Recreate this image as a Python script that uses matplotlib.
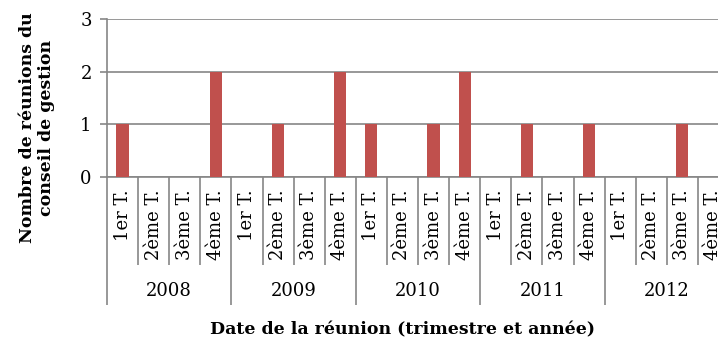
import matplotlib.pyplot as plt

# meetings of the management board per quarter, 2008-2012
years = ['2008', '2009', '2010', '2011', '2012']
quarters = ['1er T.', '2ème T.', '3ème T.', '4ème T.']
meetings = [1, 0, 0, 2,
            0, 1, 0, 2,
            1, 0, 1, 2,
            0, 1, 0, 1,
            0, 0, 1, 0]

plt.rcParams['font.family'] = 'DejaVu Serif'
grey = '#868686'

W, H = 718, 343
fig = plt.figure(figsize=(W / 100, H / 100), dpi=100)
# the category axis runs past the right edge of the figure
ax = fig.add_axes([107 / W, 1 - 177 / H, 622 / W, 158 / H])

n = len(meetings)
xs = list(range(n))
ax.bar(xs, meetings, width=0.39, color='#C0504D', zorder=3)

ax.set_xlim(-0.5, n - 0.5)
ax.set_ylim(0, 3)
ax.set_yticks([0, 1, 2, 3])
ax.yaxis.grid(True, color=grey, linewidth=1.2)
ax.tick_params(axis='y', length=5, width=1.2, color=grey, labelsize=13, pad=6)

for side in ['top', 'right']:
    ax.spines[side].set_visible(False)
for side in ['left', 'bottom']:
    ax.spines[side].set_color(grey)
    ax.spines[side].set_linewidth(1.2)

# quarter separators (short) and year separators (long)
ax.set_xticks([k - 0.5 for k in range(0, n + 1, 4)])
ax.set_xticks([k - 0.5 for k in range(n + 1) if k % 4], minor=True)
ax.tick_params(axis='x', which='major', length=92, width=1.2, color=grey, labelbottom=False)
ax.tick_params(axis='x', which='minor', length=63, width=1.2, color=grey, labelbottom=False)

for i in xs:
    ax.annotate(quarters[i % 4], xy=(i, 0), xycoords='data', xytext=(0, -12),
                textcoords='offset pixels', rotation=90, ha='center', va='top',
                fontsize=13, annotation_clip=False)
for j, y in enumerate(years):
    ax.annotate(y, xy=(j * 4 + 1.5, 0), xycoords='data', xytext=(0, -114),
                textcoords='offset pixels', ha='center', va='center',
                fontsize=13, annotation_clip=False)

fig.text(402 / W, 1 - 330 / H, 'Date de la réunion (trimestre et année)',
         ha='center', va='center', fontsize=12.5, fontweight='bold')
fig.text(37 / W, 1 - 128 / H, 'Nombre de réunions du\nconseil de gestion',
         ha='center', va='center', rotation=90, fontsize=12.5, fontweight='bold',
         linespacing=1.15)

fig.savefig('out.png', dpi=100)
